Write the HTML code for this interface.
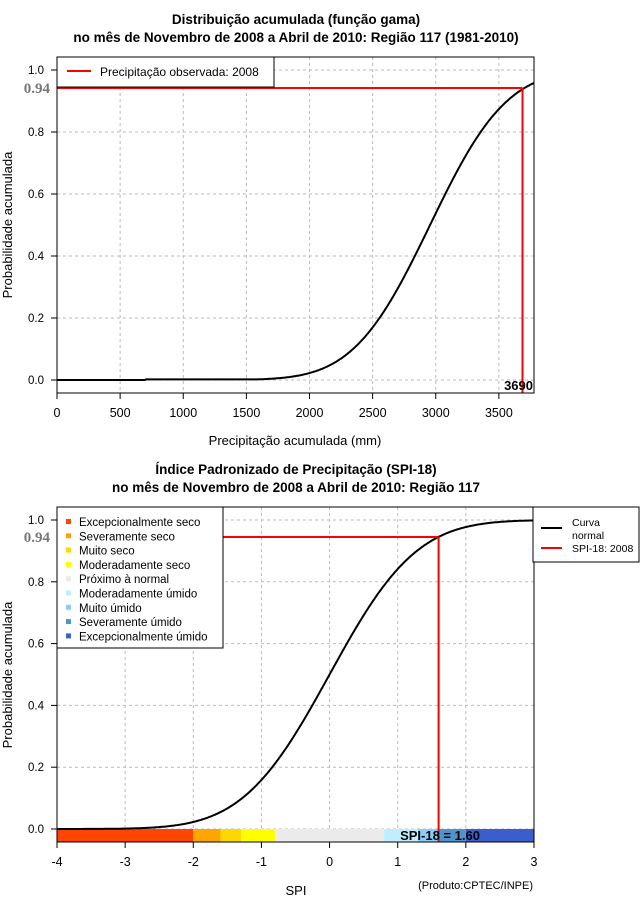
<!DOCTYPE html>
<html><head><meta charset="utf-8"><style>
html,body{margin:0;padding:0;background:#fff;}
svg{display:block;font-family:"Liberation Sans",sans-serif;}
</style></head><body>
<svg id="s" width="640" height="900" viewBox="0 0 640 900" xmlns="http://www.w3.org/2000/svg">
<rect width="640" height="900" fill="#fff"/>
<g font-weight="bold" font-size="13.5" text-anchor="middle" fill="#000">
<text x="296" y="24">Distribuição acumulada (função gama)</text>
<text x="296" y="42">no mês de Novembro de 2008 a Abril de 2010: Região 117 (1981-2010)</text>
<text x="296" y="474">Índice Padronizado de Precipitação (SPI-18)</text>
<text x="296" y="492">no mês de Novembro de 2008 a Abril de 2010: Região 117</text>
</g>
<g id="gtop"></g>
<g id="gbot"></g>
</svg>
<script>
(function(){
var NS="http://www.w3.org/2000/svg";
function el(p,t,a,txt){var e=document.createElementNS(NS,t);for(var k in a)e.setAttribute(k,a[k]);if(txt!==undefined)e.textContent=txt;p.appendChild(e);return e;}
function erf(x){var s=x<0?-1:1;x=Math.abs(x);var t=1/(1+0.3275911*x);var y=1-(((((1.061405429*t-1.453152027)*t)+1.421413741)*t-0.284496736)*t+0.254829592)*t*Math.exp(-x*x);return s*y;}
function ncdf(z){return 0.5*(1+erf(z/Math.SQRT2));}
var gT=document.getElementById('gtop'),gB=document.getElementById('gbot');
// TOP
(function(){
 var L=57,R=534,T=57,B=393;
 function X(v){return 57+v*0.12625;} function Y(p){return 380-p*310;}
 for(var v=0;v<=3500;v+=500){el(gT,'line',{x1:X(v),x2:X(v),y1:T,y2:B,stroke:'#bbb','stroke-dasharray':'3,3'});}
 for(var i=0;i<=5;i++){var p=i*0.2;el(gT,'line',{x1:L,x2:R,y1:Y(p),y2:Y(p),stroke:'#bbb','stroke-dasharray':'3,3'});}
 var d='';for(var px=L;px<=R;px++){var v=(px-57)/0.12625;var z=(v-2955)/476;var pp=ncdf(z);if(v<700)pp=0;else if(pp<0.002)pp=0.002;d+=(d?'L':'M')+px+','+Y(pp).toFixed(1);}
 el(gT,'path',{d:d,fill:'none',stroke:'#000','stroke-width':2});
 el(gT,'line',{x1:L,x2:522.5,y1:88,y2:88,stroke:'#f00','stroke-width':2});
 el(gT,'line',{x1:522.5,x2:522.5,y1:88,y2:B,stroke:'#f00','stroke-width':2});
 el(gT,'rect',{x:L,y:T,width:R-L,height:B-T,fill:'none',stroke:'#000'});
 el(gT,'rect',{x:57,y:57,width:217,height:30,fill:'#fff',stroke:'#000'});
 el(gT,'line',{x1:67,x2:91,y1:71,y2:71,stroke:'#f00','stroke-width':2});
 el(gT,'text',{x:100,y:76,'font-size':12},'Precipitação observada: 2008');
 el(gT,'text',{x:533,y:390,'font-size':13,'font-weight':'bold','text-anchor':'end'},'3690');
 for(var v=0;v<=3500;v+=500){el(gT,'line',{x1:X(v),x2:X(v),y1:B,y2:B+6,stroke:'#000'});el(gT,'text',{x:X(v),y:417,'font-size':12.5,'text-anchor':'middle'},String(v));}
 ['0.0','0.2','0.4','0.6','0.8','1.0'].forEach(function(s,i){var y=Y(i*0.2);el(gT,'line',{x1:L-6,x2:L,y1:y,y2:y,stroke:'#000'});el(gT,'text',{x:44,y:y+4,'font-size':11.5,'text-anchor':'end'},s);});
 el(gT,'text',{x:50,y:93,'font-size':15,'font-weight':'bold','fill':'#777','text-anchor':'end','font-family':'Liberation Serif,serif'},'0.94');
 el(gT,'text',{x:295,y:445,'font-size':13,'text-anchor':'middle'},'Precipitação acumulada (mm)');
 el(gT,'text',{x:0,y:0,'font-size':13,'text-anchor':'middle',transform:'translate(12,225) rotate(-90)'},'Probabilidade acumulada');
})();
// BOTTOM
(function(){
 var L=57,R=534,T=507,B=842;
 function X(v){return 57+(v+4)*68.14;} function Y(p){return 829-p*309;}
 for(var v=-4;v<=3;v++){el(gB,'line',{x1:X(v),x2:X(v),y1:T,y2:B,stroke:'#bbb','stroke-dasharray':'3,3'});}
 for(var i=0;i<=5;i++){el(gB,'line',{x1:L,x2:R,y1:Y(i*0.2),y2:Y(i*0.2),stroke:'#bbb','stroke-dasharray':'3,3'});}
 var bands=[[-4,-2,'#FF4500'],[-2,-1.6,'#FFA500'],[-1.6,-1.3,'#FFD700'],[-1.3,-0.8,'#FFFF00'],[-0.8,0.8,'#EBEBEB'],[0.8,1.3,'#BFEFFF'],[1.3,1.6,'#87CEFA'],[1.6,2,'#4F94CD'],[2,3,'#3A5FCD']];
 bands.forEach(function(b){el(gB,'rect',{x:X(b[0]),y:829,width:X(b[1])-X(b[0]),height:13,fill:b[2]});});
 var d='';for(var px=L;px<=R;px++){var v=(px-57)/68.14-4;var pp=ncdf(v);d+=(d?'L':'M')+px+','+Y(pp).toFixed(1);}
 el(gB,'path',{d:d,fill:'none',stroke:'#000','stroke-width':2});
 el(gB,'line',{x1:L,x2:X(1.6),y1:537,y2:537,stroke:'#f00','stroke-width':2});
 el(gB,'line',{x1:X(1.6),x2:X(1.6),y1:537,y2:B,stroke:'#f00','stroke-width':2});
 el(gB,'text',{x:440,y:840,'font-size':13,'font-weight':'bold','text-anchor':'middle'},'SPI-18 = 1.60');
 el(gB,'rect',{x:L,y:T,width:R-L,height:B-T,fill:'none',stroke:'#000'});
 el(gB,'rect',{x:57,y:507,width:166,height:141,fill:'#fff',stroke:'#000'});
 var labs=['Excepcionalmente seco','Severamente seco','Muito seco','Moderadamente seco','Próximo à normal','Moderadamente úmido','Muito úmido','Severamente úmido','Excepcionalmente úmido'];
 labs.forEach(function(s,i){var y=522+i*14.3;el(gB,'rect',{x:66,y:y-3,width:5,height:5,fill:bands[i][2]});el(gB,'text',{x:79,y:y+4,'font-size':11.5},s);});
 el(gB,'rect',{x:533,y:507,width:106,height:55,fill:'#fff',stroke:'#000'});
 el(gB,'line',{x1:541,x2:562,y1:528,y2:528,stroke:'#000','stroke-width':2});
 el(gB,'line',{x1:541,x2:562,y1:548,y2:548,stroke:'#f00','stroke-width':2});
 el(gB,'text',{x:572,y:526,'font-size':10.5},'Curva');
 el(gB,'text',{x:572,y:539,'font-size':10.5},'normal');
 el(gB,'text',{x:572,y:552,'font-size':10.5},'SPI-18: 2008');
 for(var v=-4;v<=3;v++){el(gB,'line',{x1:X(v),x2:X(v),y1:B,y2:B+6,stroke:'#000'});el(gB,'text',{x:X(v),y:866,'font-size':12.5,'text-anchor':'middle'},String(v));}
 ['0.0','0.2','0.4','0.6','0.8','1.0'].forEach(function(s,i){var y=Y(i*0.2);el(gB,'line',{x1:L-6,x2:L,y1:y,y2:y,stroke:'#000'});el(gB,'text',{x:44,y:y+4,'font-size':11.5,'text-anchor':'end'},s);});
 el(gB,'text',{x:50,y:542,'font-size':15,'font-weight':'bold','fill':'#777','text-anchor':'end','font-family':'Liberation Serif,serif'},'0.94');
 el(gB,'text',{x:296,y:895,'font-size':13,'text-anchor':'middle'},'SPI');
 el(gB,'text',{x:533,y:889,'font-size':11,'text-anchor':'end'},'(Produto:CPTEC/INPE)');
 el(gB,'text',{x:0,y:0,'font-size':13,'text-anchor':'middle',transform:'translate(12,675) rotate(-90)'},'Probabilidade acumulada');
})();
})();
</script>
</body></html>
